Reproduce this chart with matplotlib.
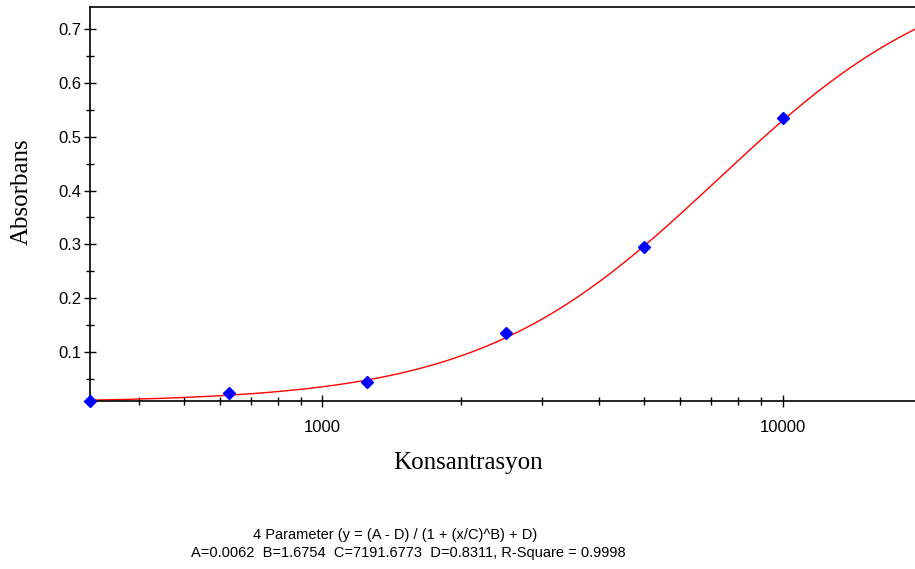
import numpy as np
import matplotlib
matplotlib.use("Agg")
import matplotlib.pyplot as plt
from matplotlib.ticker import FixedLocator, LogLocator, NullFormatter, FuncFormatter

# Data
concentrations = [312.5, 625, 1250, 2500, 5000, 10000]
absorbance = [0.009, 0.024, 0.044, 0.135, 0.295, 0.534]

# 4-parameter logistic fit shown in the chart
A, B, C, D = 0.0062, 1.6754, 7191.6773, 0.8311
r_square = 0.9998

x_label = "Konsantrasyon"
y_label = "Absorbans"
y_major = [0.1, 0.2, 0.3, 0.4, 0.5, 0.6, 0.7]
y_minor = [0.05, 0.15, 0.25, 0.35, 0.45, 0.55, 0.65]

W, H = 915, 569
fig = plt.figure(figsize=(W / 100, H / 100), dpi=100)
left, right, top, bottom = 90, 921, 7, 401
ax = fig.add_axes([left / W, 1 - bottom / H, (right - left) / W, (bottom - top) / H])

xmin, xmax = 312.5, 20000
xs = np.logspace(np.log10(xmin), np.log10(xmax), 400)
ys = (A - D) / (1 + (xs / C) ** B) + D
ax.plot(xs, ys, color="#ff0000", lw=1.0, zorder=2)
ax.plot(concentrations, absorbance, linestyle="none", marker="D", ms=6.5,
        color="#0000ff", mec="#0000ff", zorder=3, clip_on=False)

ax.set_xscale("log")
ax.set_xlim(xmin, xmax)
ax.set_ylim(0.009, 0.741)

ax.yaxis.set_major_locator(FixedLocator(y_major))
ax.yaxis.set_minor_locator(FixedLocator(y_minor))
ax.yaxis.set_major_formatter(FuncFormatter(lambda v, p: f"{v:.1f}"))
ax.xaxis.set_major_locator(LogLocator(base=10, numticks=10))
ax.xaxis.set_minor_locator(LogLocator(base=10, subs=np.arange(2, 10), numticks=20))
ax.xaxis.set_major_formatter(FuncFormatter(lambda v, p: f"{int(round(v))}"))
ax.xaxis.set_minor_formatter(NullFormatter())

for s in ["left", "bottom", "top"]:
    ax.spines[s].set_linewidth(1.2)
    ax.spines[s].set_color("black")
ax.spines["right"].set_visible(False)

ax.tick_params(axis="both", which="major", direction="inout", length=8, width=1.0,
               labelsize=12, colors="black")
ax.tick_params(axis="both", which="minor", direction="inout", length=6, width=1.0)
ax.tick_params(axis="x", which="major", pad=10)
ax.tick_params(axis="y", which="major", pad=2)
for lab in ax.get_xticklabels() + ax.get_yticklabels():
    lab.set_fontfamily("Liberation Sans")

fig.text(22 / W, 1 - 191.5 / H, y_label, rotation=90, ha="center", va="center",
         family="Liberation Serif", fontsize=18, color="black")
fig.text(468 / W, 1 - 463 / H, x_label, ha="center", va="center",
         family="Liberation Serif", fontsize=18, color="black")

line1 = "4 Parameter (y = (A - D) / (1 + (x/C)^B) + D)"
line2 = f"A={A:.4f}  B={B:.4f}  C={C:.4f}  D={D:.4f}, R-Square = {r_square:.4f}"
fig.text(395 / W, 1 - 535 / H, line1, ha="center", va="center",
         family="Liberation Sans", fontsize=10.5, color="black")
fig.text(408 / W, 1 - 553 / H, line2, ha="center", va="center",
         family="Liberation Sans", fontsize=10.5, color="black")

fig.savefig("out.png", dpi=100)
